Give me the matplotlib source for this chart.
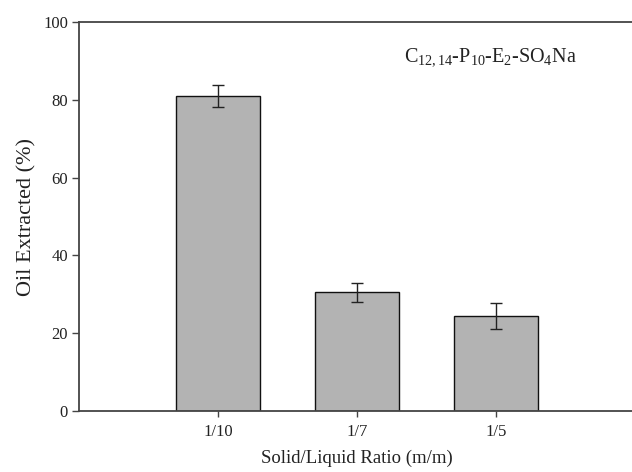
import matplotlib.pyplot as plt

plt.rcParams['font.family'] = ['Liberation Serif', 'DejaVu Serif']
plt.rcParams['mathtext.fontset'] = 'custom'
plt.rcParams['mathtext.rm'] = 'Liberation Serif'
plt.rcParams['mathtext.it'] = 'Liberation Serif'

# Data
ratios = ['1/10', '1/7', '1/5']
oil_extracted = [81.0, 30.5, 24.5]
errors = [2.9, 2.5, 3.3]

fig = plt.figure(figsize=(6.32, 4.72), dpi=100)
ax = fig.add_axes([79 / 632, 61 / 472, 556 / 632, 389 / 472])

pos = range(len(ratios))
ax.bar(pos, oil_extracted, width=0.6, color='#b3b3b3', edgecolor='#111111',
       linewidth=1.0, yerr=errors, capsize=4.5,
       error_kw=dict(ecolor='#222222', elinewidth=1.0, capthick=1.0))

ax.set_xlim(-1, 3)
ax.set_ylim(0, 100)
ax.set_xticks(list(pos))
ax.set_xticklabels(ratios)
ax.set_yticks([0, 20, 40, 60, 80, 100])

for s in ['left', 'top', 'bottom']:
    ax.spines[s].set_color('#444444')
    ax.spines[s].set_linewidth(1.3)
ax.spines['right'].set_visible(False)
ax.tick_params(axis='y', direction='out', length=5, width=1, color='#444444',
               labelsize=12, labelcolor='#222222', pad=3)
ax.tick_params(axis='x', direction='out', length=4, width=1, color='#444444',
               labelsize=12, labelcolor='#222222', pad=5)

ax.set_xlabel('Solid/Liquid Ratio (m/m)', fontsize=13.5, color='#222222', labelpad=7)
ax.set_ylabel('Oil Extracted (%)', fontsize=16, color='#222222', labelpad=5)

ax.text(0.585, 0.91, r'C$_{12,14}$-P$_{10}$-E$_{2}$-SO$_{4}$Na',
        transform=ax.transAxes, fontsize=14.5, color='#222222', va='center')

fig.savefig('out.png', dpi=100)
